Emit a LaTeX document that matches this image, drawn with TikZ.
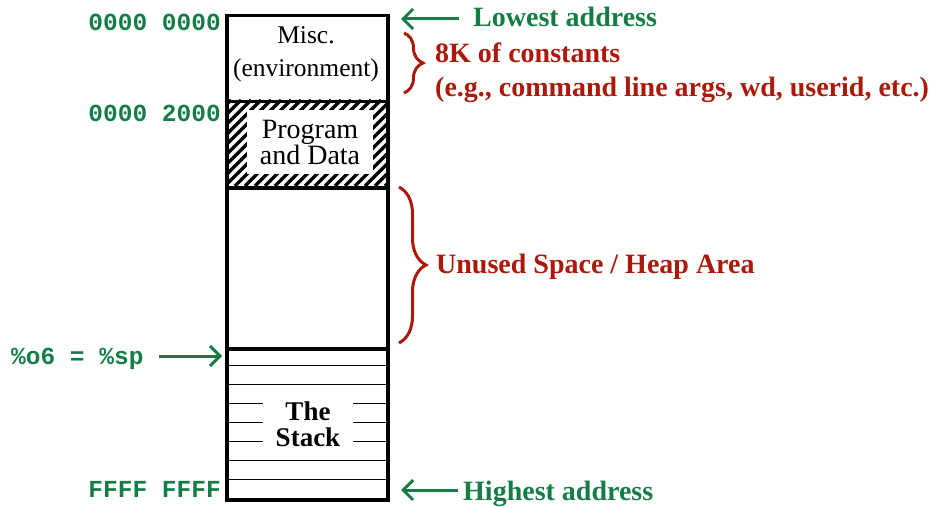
\documentclass[tikz,border=0pt]{standalone}
\usepackage{fontspec}
\setmainfont{Liberation Serif}
\setmonofont{Liberation Mono}
\usetikzlibrary{arrows.meta,decorations.pathreplacing}
\definecolor{ag}{RGB}{20,125,70}
\definecolor{ar}{RGB}{170,25,10}
\begin{document}
\begin{tikzpicture}[x=1pt,y=-1pt,
  box/.style={draw,line width=3.5pt,minimum width=161pt,inner sep=0pt,anchor=north west},
  addr/.style={text=ag,font=\ttfamily\bfseries\fontsize{24.5}{26}\selectfont,inner sep=0pt,anchor=base east},
  glbl/.style={text=ag,font=\bfseries\fontsize{28}{30}\selectfont,inner sep=0pt,anchor=base west},
  rlbl/.style={text=ar,font=\bfseries\fontsize{28}{30}\selectfont,inner sep=0pt,anchor=base west},
  garrow/.style={draw=ag,line width=3pt,-{Straight Barb[length=10pt,width=20pt]}},
  rbrace/.style={draw=ar,line width=3pt,decorate,decoration={brace,amplitude=#1}},
  thinline/.style={line width=1.5pt}
]
\useasboundingbox (0,0) rectangle (940,508);

% Misc section
\node[box, minimum height=86pt] (misc) at (225,14) {};
\node[align=center, inner sep=0pt, font=\fontsize{25.5}{33}\selectfont] (misctxt) at (306,54) {Misc.\\(environment)};

% Program and data (hatched)
\begin{scope}
  \clip (225,100) rectangle (386,186);
  \foreach \i in {-100,-90,...,170} \draw[line width=3.5pt] (225+\i,186) -- (311+\i,100);
\end{scope}
\node[fill=white, minimum width=126pt, minimum height=64pt, inner sep=0pt, align=center, font=\fontsize{28}{25}\selectfont] (progtxt) at (310,142.5) {Program\\and Data};
\node[box, minimum height=86pt] (prog) at (225,100) {};

% Heap
\node[box, minimum height=161pt] (heap) at (225,186) {};

% Stack
\foreach \y in {365.5,384.5,403.5,422.5,441.5,460.5,479.5} \draw[thinline] (225,\y) -- (386,\y);
\node[fill=white, minimum width=90pt, minimum height=64pt, inner sep=0pt, align=center, font=\bfseries\fontsize{27}{26}\selectfont] (stk) at (308,424) {The\\Stack};
\node[box, minimum height=151pt] (stack) at (225,347) {};

% Address labels
\node[addr] (a0) at (221,31) {0000 0000};
\node[addr] (a1) at (221,122) {0000 2000};
\node[addr,anchor=base west] (sp) at (11,364) {\%o6 = \%sp};
\node[addr] (af) at (221,497) {FFFF FFFF};

% Right labels
\node[glbl] (low) at (473,27) {Lowest address};
\node[glbl] (high) at (463,500) {Highest address};
\node[rlbl] (k8) at (435,63) {8K of constants};
\node[rlbl] (eg) at (435,97) {(e.g., command line args, wd, userid, etc.)};
\node[rlbl] (unused) at (436,273) {Unused Space / Heap Area};

% Arrows
\coordinate (lowtail) at (459,19);
\coordinate (lowtip) at (401,19);
\draw[garrow] (lowtail) -- (lowtip);
\coordinate (hightail) at (458,490);
\coordinate (hightip) at (401,490);
\draw[garrow] (hightail) -- (hightip);
\coordinate (sptail) at (159,356);
\coordinate (sptip) at (222,356);
\draw[garrow] (sptail) -- (sptip);

% Braces
\coordinate (b1top) at (404,33);
\coordinate (b1bot) at (404,93);
\draw[rbrace=19pt] (b1top) -- (b1bot);
\coordinate (b2top) at (399,187);
\coordinate (b2bot) at (399,343);
\draw[rbrace=27pt] (b2top) -- (b2bot);
\end{tikzpicture}
\end{document}
